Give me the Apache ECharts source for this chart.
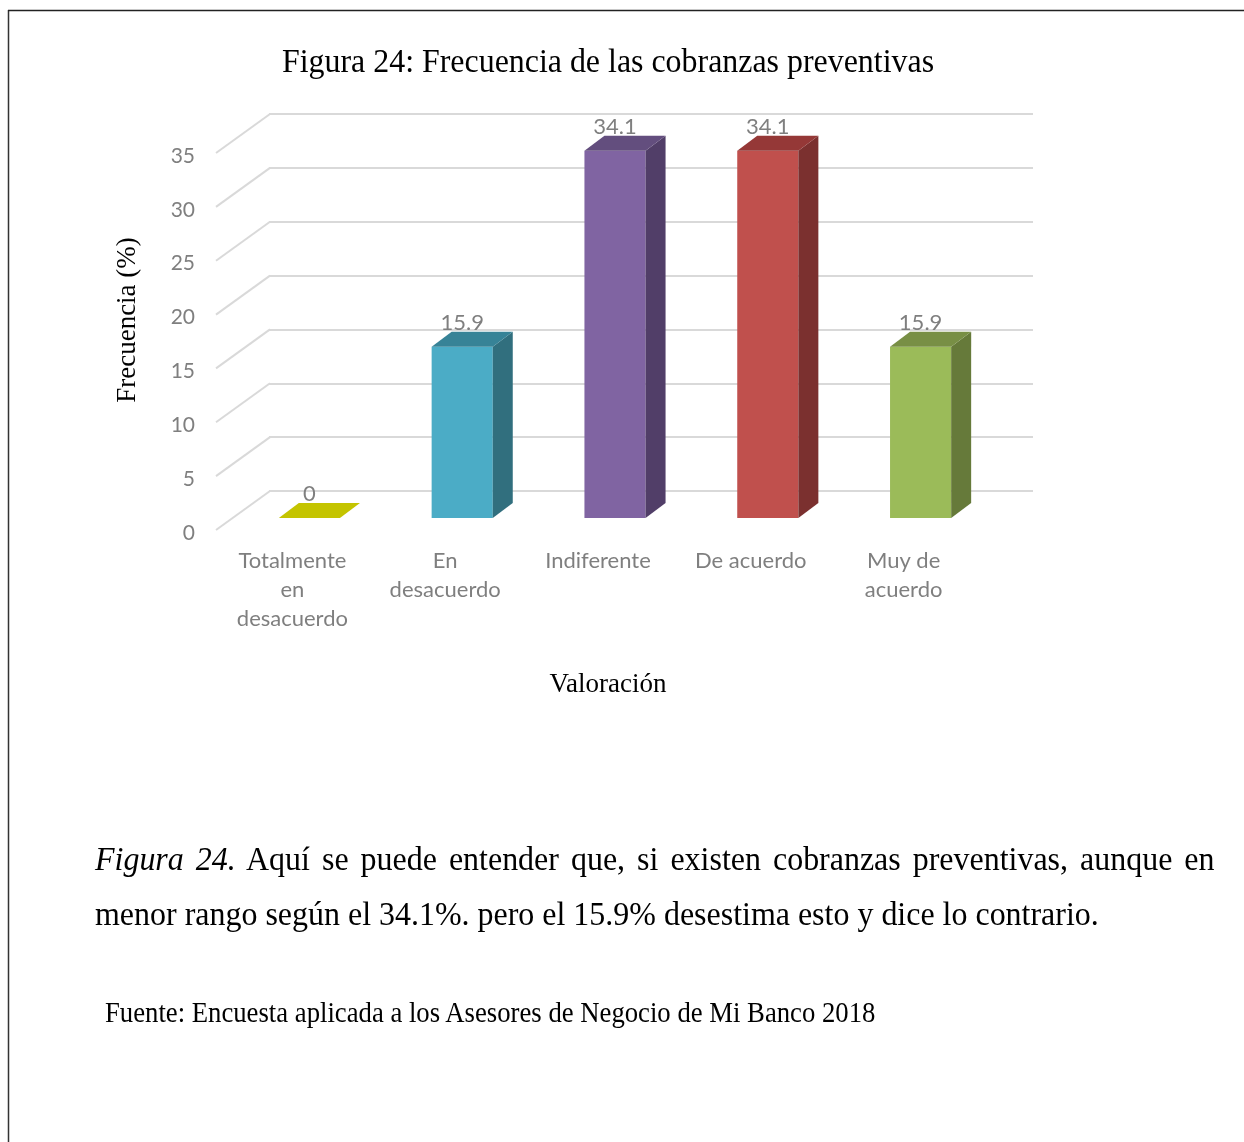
<!DOCTYPE html>
<html>
<head>
<meta charset="utf-8">
<script src="https://cdn.jsdelivr.net/npm/echarts@6/dist/echarts.min.js"></script>
<style>
  html, body { margin: 0; padding: 0; background: #fff; }
  #wrap { position: relative; width: 1244px; height: 1142px; overflow: hidden; }
  #chart { position: absolute; left: 0; top: 0; width: 1244px; height: 1142px; }
  .cap { position: absolute; font-family: "Liberation Serif", "Times New Roman", serif; color: #000; white-space: nowrap; transform-origin: 0 0; }
  .capline { left: 95px; width: 1191px; font-size: 34px; line-height: 55px; transform: scaleX(0.94); }
  #cap1 { top: 831px; text-align: justify; text-align-last: justify; }
  #cap2 { top: 886px; text-align: left; }
  #source { left: 105px; top: 996px; font-size: 30px; line-height: 32px; transform: scaleX(0.89); }
</style>
</head>
<body>
<div id="wrap">
  <div id="chart"></div>
  <div id="cap1" class="cap capline"><i>Figura 24.</i> Aquí se puede entender que, si existen cobranzas preventivas, aunque en</div>
  <div id="cap2" class="cap capline">menor rango según el 34.1%. pero el 15.9% desestima esto y dice lo contrario.</div>
  <div id="source" class="cap">Fuente: Encuesta aplicada a los Asesores de Negocio de Mi Banco 2018</div>
</div>
<script>
// ---- data ----
const categories = ["Totalmente en desacuerdo", "En desacuerdo", "Indiferente", "De acuerdo", "Muy de acuerdo"];
const tickLabels = ["Totalmente\nen\ndesacuerdo", "En\ndesacuerdo", "Indiferente", "De acuerdo", "Muy de\nacuerdo"];
const values = [0, 15.9, 34.1, 34.1, 15.9];
const valueLabels = ["0", "15.9", "34.1", "34.1", "15.9"];
const yTicks = [0, 5, 10, 15, 20, 25, 30, 35];

// ---- styles ----
const frontColors = ["#c4c400", "#4bacc6", "#8064a2", "#c0504d", "#9bbb59"];
const topColors   = ["#c4c400", "#378397", "#634e7e", "#953837", "#788f45"];
const sideColors  = ["#a8a800", "#316f7e", "#513e68", "#7b302f", "#667a3a"];
const GRID_COLOR = "#d9d9d9";
const LABEL_COLOR = "#7f7f7f";
const SANS = "Lato, 'Open Sans', sans-serif";
const SERIF = "'Liberation Serif', 'Times New Roman', serif";
// projection: back wall -> front of floor
const WALL_DX = -53, WALL_DY = 39;
// back wall -> bar front plane
const BAR_DX = -36, BAR_DY = 27;
// bar depth
const DEPTH_DX = 20, DEPTH_DY = -15;

const chart = echarts.init(document.getElementById('chart'), null, { renderer: 'canvas', width: 1244, height: 1142 });

const option = {
  backgroundColor: '#ffffff',
  animation: false,
  graphic: [
    { type: 'line', shape: { x1: 8.5, y1: 10, x2: 8.5, y2: 1142 }, style: { stroke: '#333', lineWidth: 1.5 } },
    { type: 'line', shape: { x1: 8, y1: 10.5, x2: 1244, y2: 10.5 }, style: { stroke: '#222', lineWidth: 1.5 } },
    { type: 'text', x: 608, y: 63, scaleX: 0.967,
      style: { text: 'Figura 24: Frecuencia de las cobranzas preventivas', align: 'center', verticalAlign: 'middle',
               font: '33px ' + SERIF, fill: '#000' } },
    { type: 'text', x: 128, y: 320, rotation: Math.PI / 2,
      style: { text: 'Frecuencia (%)', align: 'center', verticalAlign: 'middle', font: '27px ' + SERIF, fill: '#000' } },
    { type: 'text', x: 608, y: 685,
      style: { text: 'Valoración', align: 'center', verticalAlign: 'middle', font: '27px ' + SERIF, fill: '#000' } }
  ],
  grid: [
    { left: 269, right: 211, top: 114, bottom: 651 },   // back wall
    { left: 216, right: 264, top: 156, bottom: 609 }    // front edge of floor
  ],
  xAxis: [
    { type: 'category', gridIndex: 0, data: categories, boundaryGap: true,
      axisLine: { show: false }, axisTick: { show: false }, axisLabel: { show: false }, splitLine: { show: false } },
    { type: 'category', gridIndex: 1, data: tickLabels, boundaryGap: true,
      axisLine: { show: false }, axisTick: { show: false }, splitLine: { show: false },
      axisLabel: { interval: 0, color: LABEL_COLOR, fontFamily: SANS, fontSize: 22, lineHeight: 29, margin: 13 } }
  ],
  yAxis: [
    { type: 'value', gridIndex: 0, min: 0, max: 35, interval: 5,
      axisLine: { show: false }, axisTick: { show: false }, axisLabel: { show: false },
      splitLine: { show: true, lineStyle: { color: GRID_COLOR, width: 2 } } },
    { type: 'value', gridIndex: 1, min: 0, max: 35, interval: 5,
      axisLine: { show: false }, axisTick: { show: false }, splitLine: { show: false },
      axisLabel: { color: LABEL_COLOR, fontFamily: SANS, fontSize: 21, margin: 21 } }
  ],
  series: [
    {
      type: 'custom', xAxisIndex: 0, yAxisIndex: 0, silent: true, z: 1,
      data: yTicks.map(v => [0, v]),
      renderItem: function (params, api) {
        const y = api.coord([0, api.value(1)])[1];
        const x = params.coordSys.x;
        return { type: 'line', shape: { x1: x + 1, y1: y, x2: x + WALL_DX, y2: y + WALL_DY },
                 style: { stroke: GRID_COLOR, lineWidth: 2 } };
      }
    },
    {
      type: 'custom', xAxisIndex: 0, yAxisIndex: 0, z: 5,
      data: values.map((v, i) => [i, v]),
      renderItem: function (params, api) {
        const i = api.value(0), v = api.value(1);
        const top = api.coord([i, v]);
        const base = api.coord([i, 0]);
        const band = api.size([1, 0])[0];
        const w = band * 0.4;
        const cx = top[0] + BAR_DX;
        const xl = cx - w / 2, xr = cx + w / 2;
        const yt = top[1] + BAR_DY, yb = base[1] + BAR_DY;
        const children = [];
        if (yb - yt > 0.5) {
          children.push({ type: 'rect', shape: { x: xl, y: yt, width: w, height: yb - yt },
            style: { fill: frontColors[i] } });
          children.push({ type: 'polygon', shape: { points: [[xr, yt], [xr + DEPTH_DX, yt + DEPTH_DY], [xr + DEPTH_DX, yb + DEPTH_DY], [xr, yb]] },
            style: { fill: sideColors[i] } });
        }
        children.push({ type: 'polygon', shape: { points: [[xl, yt], [xl + DEPTH_DX, yt + DEPTH_DY], [xr + DEPTH_DX, yt + DEPTH_DY], [xr, yt]] },
          style: { fill: topColors[i] } });
        children.push({ type: 'text', style: { text: valueLabels[i], x: cx, y: yt + DEPTH_DY + 2,
          align: 'center', verticalAlign: 'bottom', fill: LABEL_COLOR, font: '22px ' + SANS } });
        return { type: 'group', children: children };
      }
    }
  ]
};
chart.setOption(option);
</script>
</body>
</html>
